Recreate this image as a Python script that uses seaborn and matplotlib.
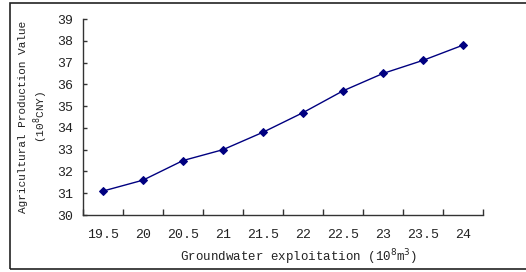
import numpy as np
import pandas as pd
import matplotlib
matplotlib.use("Agg")
import matplotlib.pyplot as plt
import seaborn as sns
from matplotlib.patches import Rectangle

exploitation = [19.5, 20, 20.5, 21, 21.5, 22, 22.5, 23, 23.5, 24]
tick_labels = ["19.5", "20", "20.5", "21", "21.5", "22", "22.5", "23", "23.5", "24"]
production = [31.1, 31.6, 32.5, 33.0, 33.8, 34.7, 35.7, 36.5, 37.1, 37.8]

df = pd.DataFrame({"x": exploitation, "y": production})

sns.set_theme(style="white")
plt.rcParams['font.family'] = ['Liberation Mono', 'DejaVu Sans']

fig = plt.figure(figsize=(5.26, 2.72), dpi=100)
ax = fig.add_axes([83/526, 1 - 215/272, 400/526, 196/272])

sns.lineplot(data=df, x="x", y="y", ax=ax, color="#000080", linewidth=1,
             marker="D", markersize=4, markeredgecolor="#000080")

ax.set_xlim(19.25, 24.25)
ax.set_ylim(30, 39)
ax.set_yticks(range(30, 40))
ax.set_xticks(exploitation)
ax.set_xticklabels(tick_labels)
ax.set_xticks(np.arange(19.25, 24.3, 0.5), minor=True)
ax.tick_params(axis="x", which="major", length=0, pad=10, labelsize=9.5, labelcolor="#222222")
ax.tick_params(axis="x", which="minor", direction="in", length=4, width=1, color="#333333", bottom=True)
ax.tick_params(axis="y", which="major", direction="in", length=3, width=1, color="#333333", left=True,
               labelsize=9.5, labelcolor="#222222", pad=7)

for s in ["top", "right"]:
    ax.spines[s].set_visible(False)
for s in ["left", "bottom"]:
    ax.spines[s].set_color("#333333")
    ax.spines[s].set_linewidth(1)

ax.set_xlabel("Groundwater exploitation (10$^{8}$m$^{3}$)", fontsize=9, color="#222222")
ax.xaxis.set_label_coords(0.54, -0.165)
ax.set_ylabel("Agricultural Production Value\n(10$^{8}$CNY)", fontsize=8, labelpad=5, color="#222222",
              linespacing=1.25)

fig.patches.append(Rectangle((10/526, 3/272), 1.2, 266/272, transform=fig.transFigure,
                             fill=False, edgecolor="#222222", linewidth=1.2))

fig.savefig("out.png", dpi=100)
